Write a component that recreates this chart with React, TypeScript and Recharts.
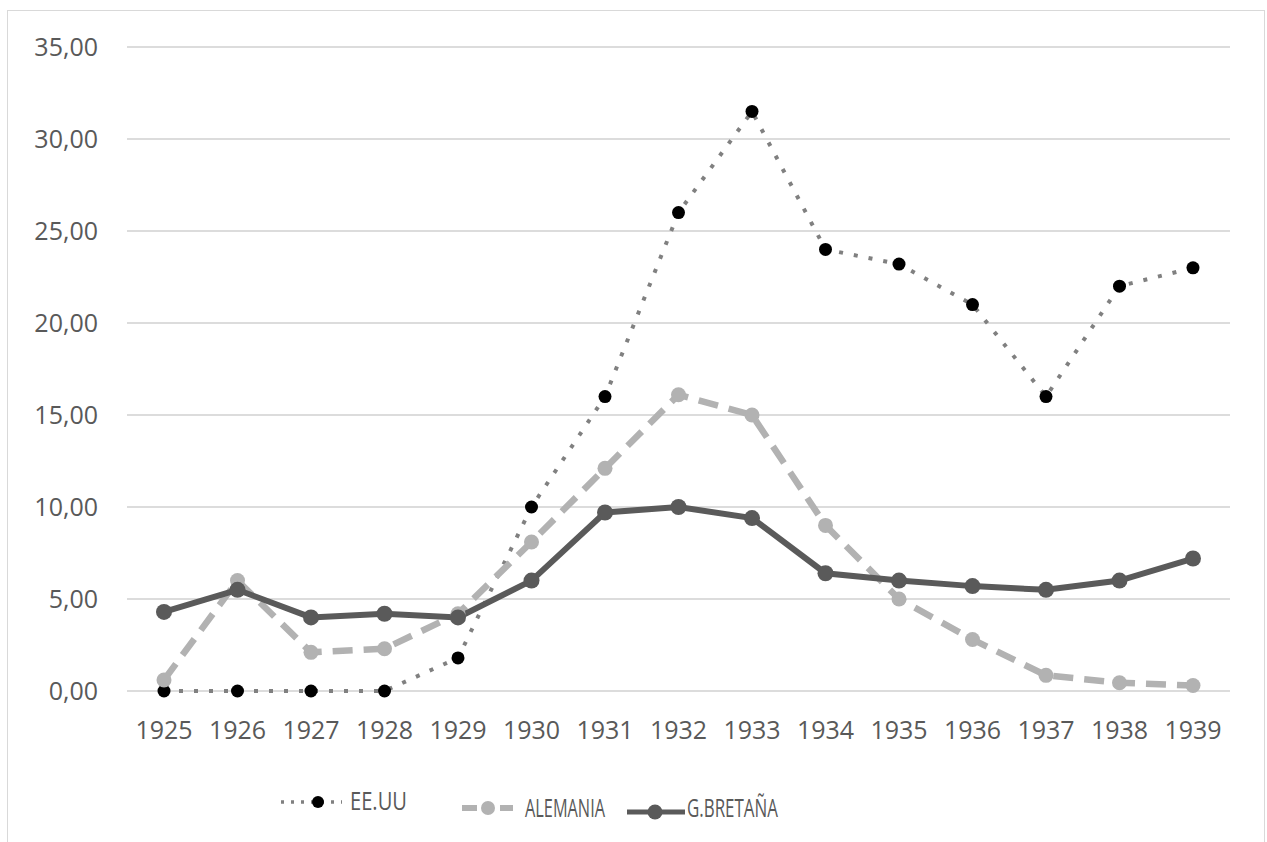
import React from "react";
import { LineChart, Line, XAxis, YAxis, CartesianGrid } from "recharts";

// values
const years = [
  "1925", "1926", "1927", "1928", "1929", "1930", "1931", "1932",
  "1933", "1934", "1935", "1936", "1937", "1938", "1939",
];
const eeuu = [0, 0, 0, 0, 1.8, 10, 16, 26, 31.5, 24, 23.2, 21, 16, 22, 23];
const alemania = [0.6, 6, 2.1, 2.3, 4.2, 8.1, 12.1, 16.1, 15, 9, 5, 2.8, 0.85, 0.45, 0.3];
const gbretana = [4.3, 5.5, 4.0, 4.2, 4.0, 6, 9.7, 10, 9.4, 6.4, 6, 5.7, 5.5, 6, 7.2];
const yTicks = [0, 5, 10, 15, 20, 25, 30, 35];

const data = years.map((year, i) => ({
  year,
  eeuu: eeuu[i],
  alemania: alemania[i],
  gbretana: gbretana[i],
}));

const TEXT = "#595959";
const FONT = "'Open Sans', 'DejaVu Sans', sans-serif";

const fmt = (v: number) => v.toFixed(2).replace(".", ",");

const LegendBox = () => (
  <svg
    width={1256}
    height={831}
    style={{ position: "absolute", left: 0, top: 0, pointerEvents: "none" }}
  >
    {/* EE.UU */}
    <line x1={273} y1={791} x2={334} y2={791} stroke="#808080" strokeWidth={3.5} strokeDasharray="3 7" />
    <circle cx={310} cy={791} r={6} fill="#000" />
    <text x={342} y={799} fill={TEXT} fontFamily={FONT} fontSize={25} textLength={57} lengthAdjust="spacingAndGlyphs">
      EE.UU
    </text>
    {/* ALEMANIA */}
    <line x1={454} y1={797} x2={469} y2={797} stroke="#b2b2b2" strokeWidth={6} />
    <line x1={492} y1={797} x2={505} y2={797} stroke="#b2b2b2" strokeWidth={6} />
    <circle cx={480} cy={797} r={7} fill="#b2b2b2" />
    <text x={517} y={806} fill={TEXT} fontFamily={FONT} fontSize={25} textLength={80} lengthAdjust="spacingAndGlyphs">
      ALEMANIA
    </text>
    {/* G.BRETAÑA */}
    <line x1={619} y1={801} x2={677} y2={801} stroke="#5a5a5a" strokeWidth={5} />
    <circle cx={647} cy={801} r={7.5} fill="#5a5a5a" />
    <text x={679} y={806} fill={TEXT} fontFamily={FONT} fontSize={25} textLength={91} lengthAdjust="spacingAndGlyphs">
      G.BRETAÑA
    </text>
  </svg>
);

export default function App() {
  return (
    <div
      style={{
        position: "fixed",
        left: 7,
        top: 10,
        width: 1258,
        height: 832,
        boxSizing: "border-box",
        border: "1px solid #d9d9d9",
        borderBottom: "none",
        background: "#fff",
      }}
    >
      <div style={{ position: "relative", width: 1256, height: 831 }}>
        <LineChart
          width={1256}
          height={831}
          data={data}
          margin={{ top: 36, right: 34, left: 29, bottom: 101 }}
        >
          <CartesianGrid vertical={false} stroke="#dcdcdc" strokeWidth={2} />
          <XAxis
            dataKey="year"
            height={50}
            padding={{ left: 37, right: 37 }}
            axisLine={false}
            tickLine={false}
            tickSize={0}
            tickMargin={30}
            tick={{ fill: TEXT, fontSize: 25, fontFamily: FONT }}
            interval={0}
          />
          <YAxis
            width={90}
            domain={[0, 35]}
            ticks={yTicks}
            axisLine={false}
            tickLine={false}
            tickSize={0}
            tickMargin={29}
            tickFormatter={fmt}
            tick={{ fill: TEXT, fontSize: 25, fontFamily: FONT }}
          />
          <Line
            dataKey="eeuu"
            name="EE.UU"
            type="linear"
            stroke="#808080"
            strokeWidth={4}
            strokeDasharray="4 11"
            dot={{ r: 6.5, fill: "#000", stroke: "none", strokeDasharray: "0" }}
            activeDot={false}
            isAnimationActive={false}
          />
          <Line
            dataKey="alemania"
            name="ALEMANIA"
            type="linear"
            stroke="#b2b2b2"
            strokeWidth={6.5}
            strokeDasharray="20 11"
            dot={{ r: 7.5, fill: "#b2b2b2", stroke: "none", strokeDasharray: "0" }}
            activeDot={false}
            isAnimationActive={false}
          />
          <Line
            dataKey="gbretana"
            name="G.BRETAÑA"
            type="linear"
            stroke="#5a5a5a"
            strokeWidth={6}
            dot={{ r: 8, fill: "#5a5a5a", stroke: "none" }}
            activeDot={false}
            isAnimationActive={false}
          />
        </LineChart>
        <LegendBox />
      </div>
    </div>
  );
}
